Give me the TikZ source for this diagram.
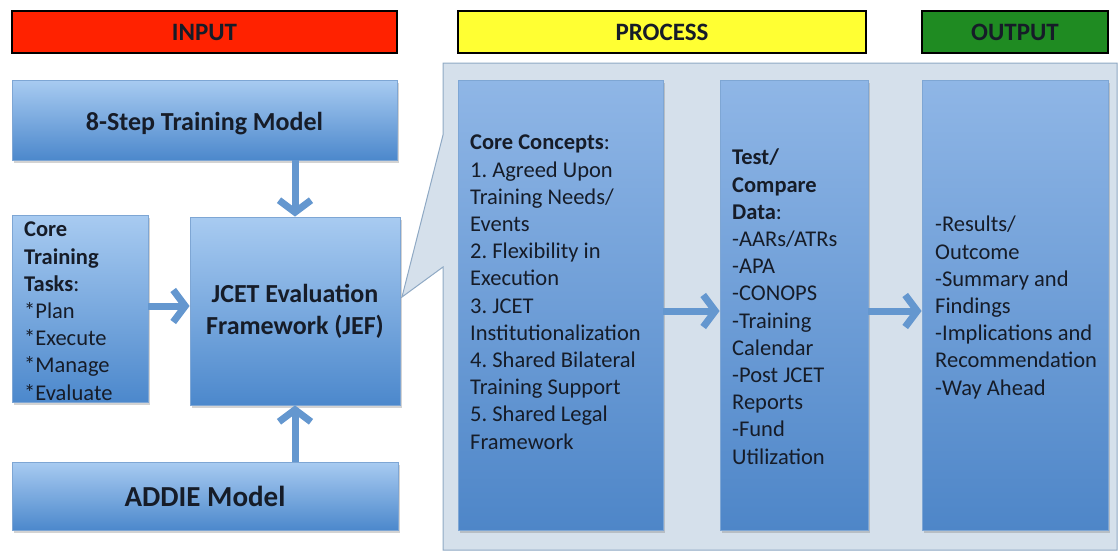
\documentclass[tikz,border=0pt]{standalone}
\usepackage{fontspec}
\setmainfont{Carlito}
\frenchspacing
\usetikzlibrary{arrows.meta,shadows}
\definecolor{txt}{HTML}{161C28}
\definecolor{boxtop}{HTML}{A8CBF1}
\definecolor{boxbot}{HTML}{4C88CC}
\definecolor{coltop}{HTML}{8FB6E6}
\definecolor{colbot}{HTML}{4E86C8}
\definecolor{boxedge}{HTML}{7EA6D4}
\definecolor{panelfill}{HTML}{D5E0EB}
\definecolor{paneledge}{HTML}{8FA9C4}
\definecolor{arrowc}{HTML}{6497CF}
\definecolor{bred}{HTML}{FF2200}
\definecolor{byellow}{HTML}{FFFF33}
\definecolor{bgreen}{HTML}{1F8B22}
\tikzset{
  banner/.style={draw=black, line width=1.8pt, minimum height=42pt, inner sep=0pt,
    font=\fontsize{25}{28}\selectfont\bfseries, text=txt},
  bluebox/.style={draw=boxedge, line width=0.8pt, top color=boxtop, bottom color=boxbot,
    inner sep=0pt, drop shadow={opacity=0.35, shadow xshift=2pt, shadow yshift=-2.5pt}},
  colbox/.style={draw=boxedge, line width=0.8pt, top color=coltop, bottom color=colbot,
    inner sep=0pt, drop shadow={opacity=0.35, shadow xshift=2pt, shadow yshift=-2.5pt}},
  bodytxt/.style={anchor=north west, inner sep=0pt, align=left, text=txt,
    font=\fontsize{22.5}{27.2}\selectfont},
  flow/.style={draw=arrowc, line width=7pt,
    -{Straight Barb[length=12pt, width=32pt]}},
}
\begin{document}
\begin{tikzpicture}[x=1pt, y=-1pt]
\useasboundingbox (0,0) rectangle (1119,552);
% banners
\node[banner, fill=bred, minimum width=385pt] (inp) at (204.5,32) {INPUT};
\node[banner, fill=byellow, minimum width=408pt] (proc) at (662,32) {PROCESS};
\node[banner, fill=bgreen, minimum width=186pt] (outp) at (1015,32) {OUTPUT};
% process panel with callout
\draw[draw=paneledge, fill=panelfill, line width=1pt]
  (443,63) -- (443,135) -- (402,297) -- (443,267) -- (443,550) -- (1117,550) -- (1117,63) -- cycle;
% input boxes
\node[bluebox, minimum width=385pt, minimum height=80pt] (step8) at (204.5,120) {};
\node[inner sep=0pt, font=\fontsize{26}{30}\selectfont\bfseries, text=txt] (step8txt) at (204.5,124) {8-Step Training Model};
\node[bluebox, minimum width=136pt, minimum height=187pt] (tasks) at (80,308.5) {};
\node[bluebox, minimum width=210pt, minimum height=188pt, align=center,
  font=\fontsize{26}{32}\selectfont\bfseries, text=txt] (jef) at (295,311) {JCET Evaluation\\Framework (JEF)};
\node[bluebox, minimum width=386pt, minimum height=68pt,
  font=\fontsize{29}{32}\selectfont\bfseries, text=txt] (addie) at (205,496) {ADDIE Model};
% process columns
\node[colbox, minimum width=205pt, minimum height=450pt] (cc) at (560.5,305) {};
\node[colbox, minimum width=148pt, minimum height=450pt] (tc) at (794,305) {};
\node[colbox, minimum width=186pt, minimum height=450pt] (res) at (1015,305) {};
% texts
\node[bodytxt] (taskstxt) at (24,222) {\textbf{Core}\\\textbf{Training}\\\textbf{Tasks}:\\*Plan\\*Execute\\*Manage\\*Evaluate};
\node[bodytxt] (cctxt) at (470,135) {\textbf{Core Concepts}:\\1. Agreed Upon\\Training Needs/\\Events\\2. Flexibility in\\Execution\\3. JCET\\Institutionalization\\4. Shared Bilateral\\Training Support\\5. Shared Legal\\Framework};
\node[bodytxt] (tctxt) at (732,149) {\textbf{Test/}\\\textbf{Compare}\\\textbf{Data}:\\-AARs/ATRs\\-APA\\-CONOPS\\-Training\\Calendar\\-Post JCET\\Reports\\-Fund\\Utilization};
\node[bodytxt] (restxt) at (935,216) {-Results/\\Outcome\\-Summary and\\Findings\\-Implications and\\Recommendation\\-Way Ahead};
% arrows
\draw[flow] (jef.north |- step8.south) -- (jef.north);
\draw[flow] (tasks.east |- 0,306) -- (jef.west |- 0,306);
\draw[flow] (jef.south |- addie.north) -- (jef.south);
\draw[flow] (cc.east |- 0,311) -- (tc.west |- 0,311);
\draw[flow] (tc.east |- 0,311) -- (res.west |- 0,311);
\end{tikzpicture}
\end{document}
